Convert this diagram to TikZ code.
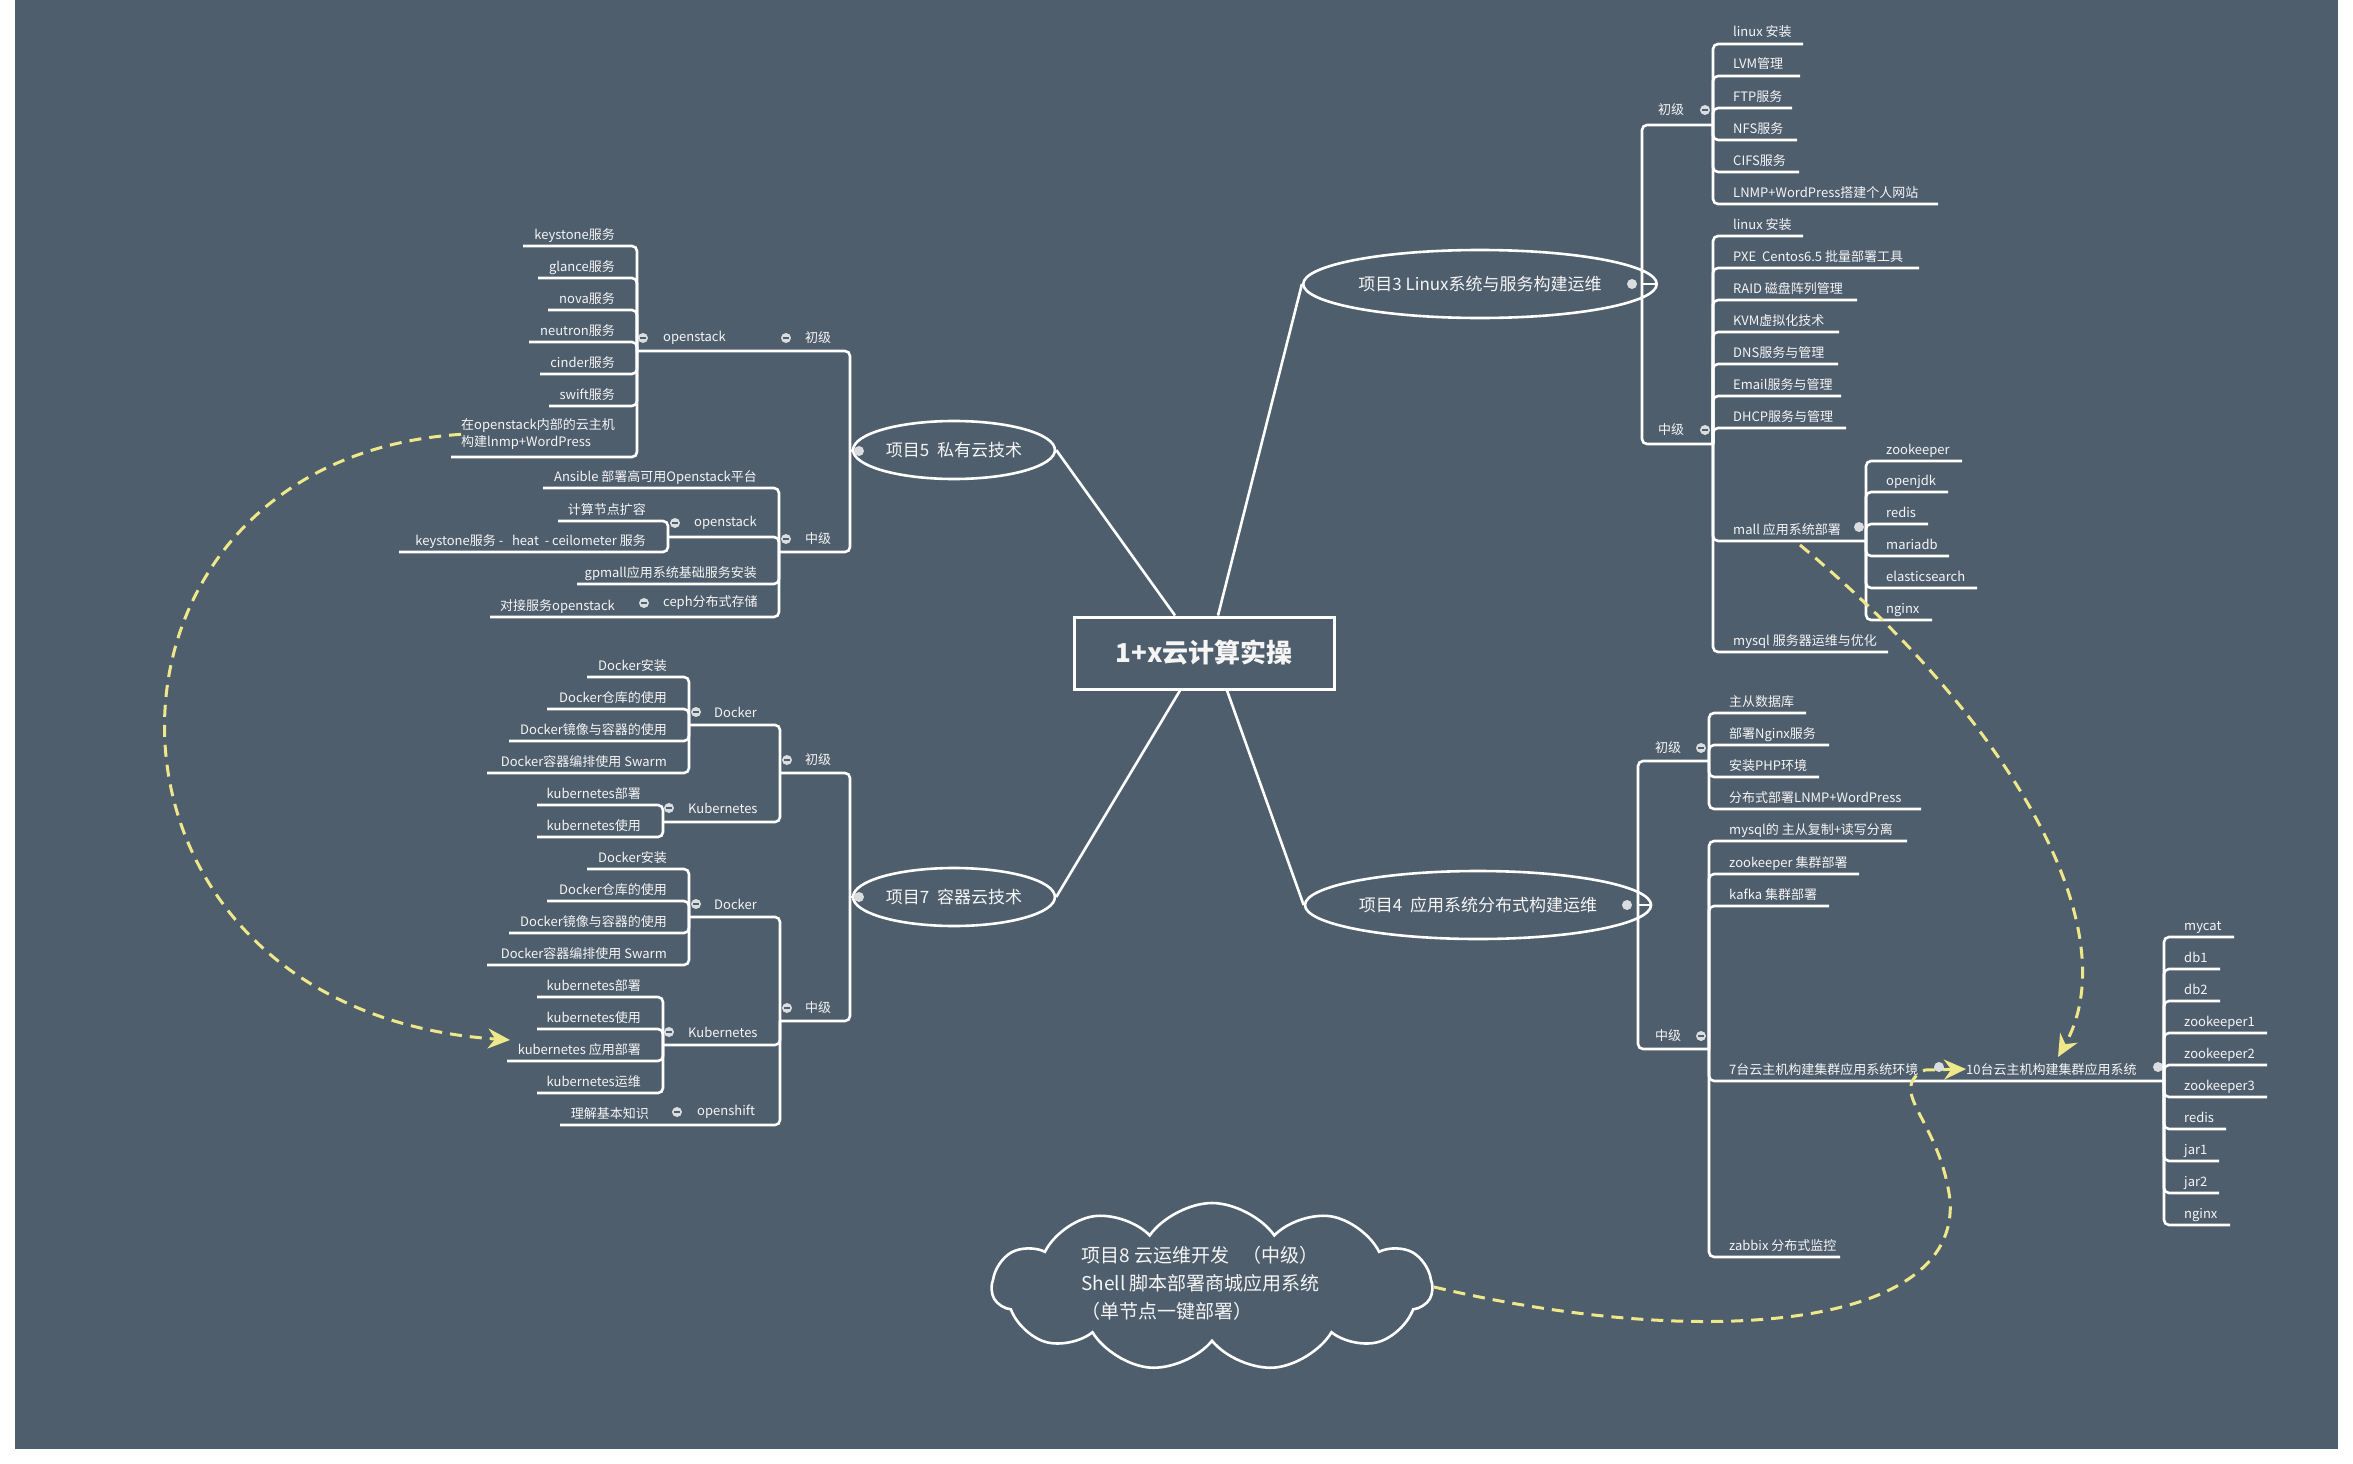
\documentclass[tikz,border=0pt]{standalone}
\usepackage{fontspec}
\setmainfont{Noto Sans CJK SC}
\usetikzlibrary{shapes.geometric,shapes.symbols,arrows.meta}
\definecolor{bg}{HTML}{4F5E6C}
\definecolor{yel}{HTML}{EEE88A}
\definecolor{dotc}{HTML}{DADDE0}
\newcommand\RL[5]{\draw[br] (#1,#2) |- (#4,#3); \node[lf,anchor=base west] at ({#1+20},{#3-7}) {#5};}
\newcommand\LL[5]{\draw[br] (#1,#2) |- (#4,#3); \node[lf,anchor=base east] at ({#1-22},{#3-7}) {#5};}
\newcommand\BRL[4]{\fill[dotc] (#1,#2) circle (5); \draw[bg,line width=1.2] ({#1-3},#2) -- ({#1+3},#2); \node[lf,anchor=west,inner sep=0] at (#3,#2) {#4};}
\begin{document}
\begin{tikzpicture}[x=1pt,y=-1pt,
  br/.style={draw=white,line width=2.6,rounded corners=5},
  lf/.style={text=white!94!bg,font=\fontsize{13}{15}\selectfont,inner sep=0},
  proj/.style={ellipse,draw=white,line width=2.6,text=white!94!bg,font=\fontsize{17}{20}\selectfont},
  yd/.style={draw=yel,line width=3,dash pattern=on 12 off 8,-{Stealth[length=22,width=20,fill=yel]}}]
\useasboundingbox (0,0) rectangle (2353,1464);
\fill[bg] (15,0) rectangle (2338,1449);
% root and projects
\node[draw=white,line width=3,minimum width=260,minimum height=72,text=white!94!bg,font=\fontsize{26}{30}\selectfont\bfseries] (root) at (1204,653) {1+x云计算实操};
\node[proj,minimum width=288,minimum height=68] (p3) at (1480,284) {项目3 Linux系统与服务构建运维};
\node[proj,minimum width=286,minimum height=68] (p4) at (1478,905) {项目4\ \ 应用系统分布式构建运维};
\node[proj,minimum width=176,minimum height=58] (p5) at (954,450) {项目5\ \ 私有云技术};
\node[proj,minimum width=176,minimum height=58] (p7) at (954,897) {项目7\ \ 容器云技术};
\draw[br] ([xshift=14]root.north) -- (p3.west);
\draw[br] ([xshift=-29]root.north) -- (p5.east);
\draw[br] ([xshift=-24]root.south) -- (p7.east);
\draw[br] ([xshift=23]root.south) -- (p4.west);
% ===== project 3
\draw[br] (p3.east) -- (1642,284);
\draw[br] (1642,284) |- (1713,125);
\draw[br] (1642,284) |- (1713,444);
\fill[dotc] (1632,284) circle (5);
\BRL{1705}{110}{1658}{初级}
\RL{1713}{125}{44}{1803}{linux 安装}
\RL{1713}{125}{76}{1800}{LVM管理}
\RL{1713}{125}{108}{1792}{FTP服务}
\RL{1713}{125}{140}{1797}{NFS服务}
\RL{1713}{125}{172}{1799}{CIFS服务}
\RL{1713}{125}{204}{1938}{LNMP+WordPress搭建个人网站}
\BRL{1705}{430}{1658}{中级}
\RL{1713}{444}{236}{1803}{linux 安装}
\RL{1713}{444}{268}{1919}{PXE\ \ Centos6.5 批量部署工具}
\RL{1713}{444}{300}{1857}{RAID 磁盘阵列管理}
\RL{1713}{444}{332}{1839}{KVM虚拟化技术}
\RL{1713}{444}{364}{1838}{DNS服务与管理}
\RL{1713}{444}{396}{1841}{Email服务与管理}
\RL{1713}{444}{428}{1846}{DHCP服务与管理}
\RL{1713}{444}{541}{1866}{mall 应用系统部署}
\RL{1713}{444}{652}{1888}{mysql 服务器运维与优化}
\fill[dotc] (1859,527) circle (5);
\RL{1866}{541}{461}{1962}{zookeeper}
\RL{1866}{541}{492}{1948}{openjdk}
\RL{1866}{541}{524}{1928}{redis}
\RL{1866}{541}{556}{1949}{mariadb}
\RL{1866}{541}{588}{1977}{elasticsearch}
\RL{1866}{541}{620}{1932}{nginx}
% ===== project 4
\draw[br] (p4.east) -- (1638,905);
\draw[br] (1638,905) |- (1709,761);
\draw[br] (1638,905) |- (1709,1049);
\fill[dotc] (1627,905) circle (5);
\BRL{1701}{748}{1655}{初级}
\RL{1709}{761}{713}{1806}{主从数据库}
\RL{1709}{761}{745}{1829}{部署Nginx服务}
\RL{1709}{761}{777}{1819}{安装PHP环境}
\RL{1709}{761}{809}{1921}{分布式部署LNMP+WordPress}
\BRL{1701}{1036}{1655}{中级}
\RL{1709}{1049}{841}{1907}{mysql的 主从复制+读写分离}
\RL{1709}{1049}{874}{1859}{zookeeper 集群部署}
\RL{1709}{1049}{906}{1829}{kafka 集群部署}
\RL{1709}{1049}{1081}{2164}{7台云主机构建集群应用系统环境}
\RL{1709}{1049}{1257}{1840}{zabbix 分布式监控}
\fill[dotc] (1939,1067) circle (5);
\node[lf,anchor=base west] (ten) at (1966,1074) {10台云主机构建集群应用系统};
\fill[dotc] (2158,1067) circle (5);
\RL{2164}{1081}{937}{2234}{mycat}
\RL{2164}{1081}{969}{2220}{db1}
\RL{2164}{1081}{1001}{2220}{db2}
\RL{2164}{1081}{1033}{2267}{zookeeper1}
\RL{2164}{1081}{1065}{2267}{zookeeper2}
\RL{2164}{1081}{1097}{2267}{zookeeper3}
\RL{2164}{1081}{1129}{2226}{redis}
\RL{2164}{1081}{1161}{2219}{jar1}
\RL{2164}{1081}{1193}{2219}{jar2}
\RL{2164}{1081}{1225}{2230}{nginx}
% ===== project 5
\draw[br] (p5.west) -- (850,451);
\draw[br] (850,451) |- (637,351);
\draw[br] (850,451) |- (779,552);
\fill[dotc] (859,451) circle (5);
\BRL{786}{338}{805}{初级}
\BRL{643}{338}{663}{openstack}
\LL{637}{351}{246}{523}{keystone服务}
\LL{637}{351}{278}{538}{glance服务}
\LL{637}{351}{310}{548}{nova服务}
\LL{637}{351}{342}{529}{neutron服务}
\LL{637}{351}{374}{540}{cinder服务}
\LL{637}{351}{406}{549}{swift服务}
\draw[br] (637,351) |- (451,457);
\node[lf,anchor=south east,align=left,font=\fontsize{13}{17}\selectfont] (osv) at (615,450) {在openstack内部的云主机\\构建lnmp+WordPress};
\BRL{786}{539}{805}{中级}
\LL{779}{552}{488}{543}{Ansible 部署高可用Openstack平台}
\draw[br] (779,552) |- (668,537);
\BRL{675}{523}{694}{openstack}
\LL{668}{537}{521}{558}{计算节点扩容}
\LL{668}{537}{552}{399}{keystone服务 -\ \ \ heat\ \ - ceilometer 服务}
\LL{779}{552}{584}{577}{gpmall应用系统基础服务安装}
\draw[br] (779,552) |- (490,617);
\BRL{644}{603}{663}{ceph分布式存储}
\node[lf,anchor=base east] at (615,610) {对接服务openstack};
% ===== project 7
\draw[br] (p7.west) -- (850,897);
\draw[br] (850,897) |- (780,773);
\draw[br] (850,897) |- (780,1021);
\fill[dotc] (859,897) circle (5);
\BRL{787}{760}{805}{初级}
\draw[br] (780,773) |- (689,725);
\draw[br] (780,773) |- (663,822);
\BRL{696}{712}{714}{Docker}
\LL{689}{725}{677}{587}{Docker安装}
\LL{689}{725}{709}{547}{Docker仓库的使用}
\LL{689}{725}{741}{509}{Docker镜像与容器的使用}
\LL{689}{725}{773}{487}{Docker容器编排使用 Swarm}
\BRL{669}{808}{688}{Kubernetes}
\LL{663}{822}{805}{537}{kubernetes部署}
\LL{663}{822}{837}{537}{kubernetes使用}
\BRL{787}{1008}{805}{中级}
\draw[br] (780,1021) |- (689,917);
\draw[br] (780,1021) |- (663,1045);
\BRL{696}{904}{714}{Docker}
\LL{689}{917}{869}{587}{Docker安装}
\LL{689}{917}{901}{547}{Docker仓库的使用}
\LL{689}{917}{933}{509}{Docker镜像与容器的使用}
\LL{689}{917}{965}{487}{Docker容器编排使用 Swarm}
\BRL{669}{1032}{688}{Kubernetes}
\LL{663}{1045}{997}{537}{kubernetes部署}
\LL{663}{1045}{1029}{537}{kubernetes使用}
\LL{663}{1045}{1061}{507}{kubernetes 应用部署}
\coordinate (kapp) at (510,1040);
\LL{663}{1045}{1093}{537}{kubernetes运维}
\draw[br] (780,1021) |- (560,1125);
\BRL{677}{1112}{697}{openshift}
\node[lf,anchor=base east] at (649,1118) {理解基本知识};
% ===== cloud
\node[cloud,draw=white,line width=2.6,cloud puffs=11,cloud puff arc=110,aspect=2.6,minimum width=440,minimum height=168] (cl) at (1212,1287) {};
\node[anchor=west,align=left,text=white!94!bg,font=\fontsize{19}{28}\selectfont] (clt) at (1078,1283) {项目8 云运维开发\ \ \ （中级）\\Shell 脚本部署商城应用系统\\（单节点一键部署）};
% ===== yellow dashed relations
\coordinate (mallp) at (1800,545);
\coordinate (tenarr) at (2058,1057);
\draw[yd] (osv.west) .. controls (60,460) and (60,1010) .. (kapp);
\draw[yd] (mallp) .. controls (2010,720) and (2130,930) .. (tenarr);
\draw[yd] (cl.east) .. controls (1700,1350) and (1960,1330) .. (1950,1200) .. controls (1940,1120) and (1885,1090) .. (1925,1070) -- (ten.west);
\end{tikzpicture}
\end{document}
